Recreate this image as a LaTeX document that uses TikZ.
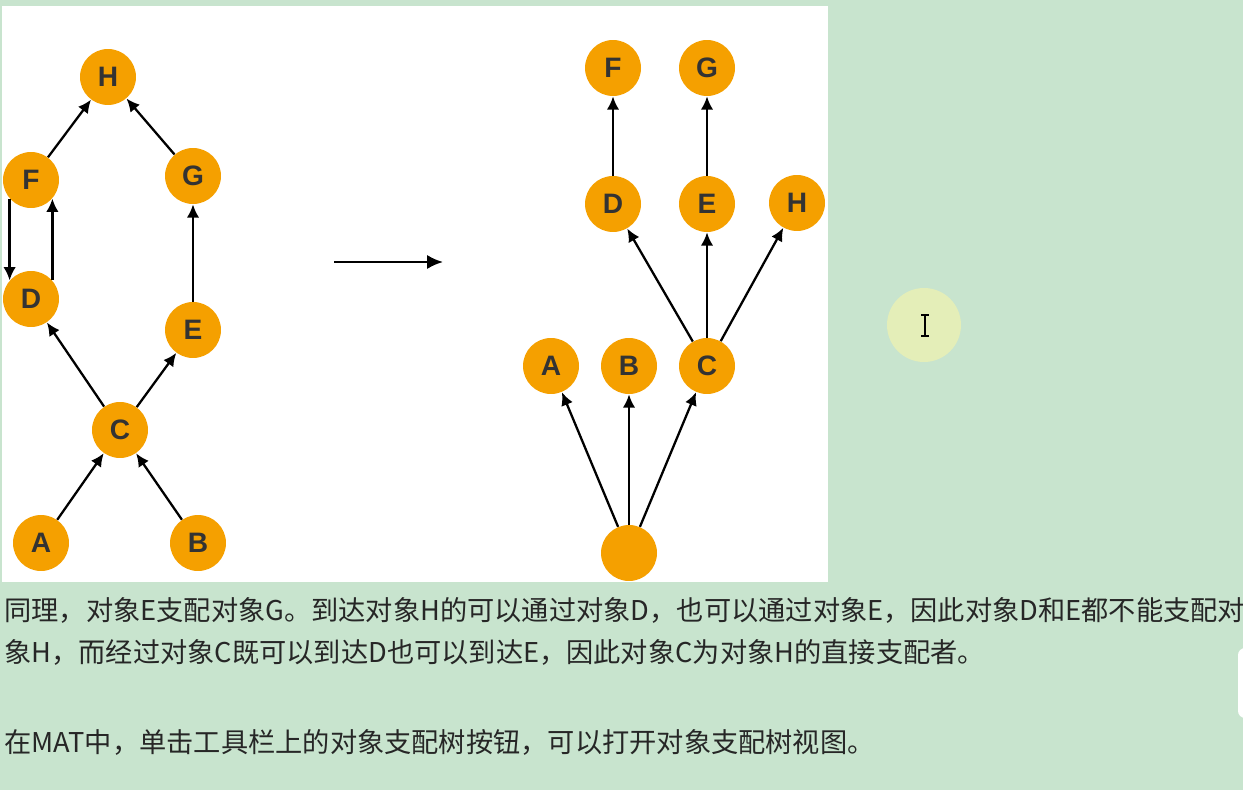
\documentclass[tikz,border=0pt]{standalone}
\usepackage{fontspec}
\setmainfont{Liberation Sans}
\newfontfamily\cjk{Noto Sans CJK SC}
\usetikzlibrary{arrows.meta}
\definecolor{bggreen}{RGB}{200,228,206}
\definecolor{nodeorange}{RGB}{245,160,0}
\definecolor{letter}{RGB}{51,51,51}
\definecolor{halo}{RGB}{228,238,184}
\tikzset{vertex/.style={circle,fill=nodeorange,minimum size=1.12cm,inner sep=0pt,text=letter,font=\bfseries\fontsize{16}{18}\selectfont},
	link/.style={line width=1.3pt,-{Latex[length=7.5pt,width=7pt]}},
	caption/.style={anchor=west,inner sep=0pt,text=black!85,font=\cjk\fontsize{15.5}{18}\selectfont}}
\begin{document}
\begin{tikzpicture}[x=0.02cm,y=-0.02cm]
	\clip (0,0) rectangle (1243,790);
	\fill[bggreen] (0,0) rectangle (1243,790);
	\fill[white] (2,6) rectangle (828,582);
	% graph before
	\node[vertex] (lH) at (108,77) {H};
	\node[vertex] (lF) at (31,180) {F};
	\node[vertex] (lG) at (193,176) {G};
	\node[vertex] (lD) at (31,299) {D};
	\node[vertex] (lE) at (193,330) {E};
	\node[vertex] (lC) at (120,430) {C};
	\node[vertex] (lA) at (41,543) {A};
	\node[vertex] (lB) at (198,543) {B};
	\draw[link] (lF)--(lH);
	\draw[link] (lG)--(lH);
	\draw[link] (lF.221)--(lD.139);
	\draw[link] (lD.41)--(lF.319);
	\draw[link] (lE)--(lG);
	\draw[link] (lC)--(lD);
	\draw[link] (lC)--(lE);
	\draw[link] (lA)--(lC);
	\draw[link] (lB)--(lC);
	% middle arrow
	\coordinate (m1) at (334,262);
	\coordinate (m2) at (443,262);
	\draw[line width=1.3pt,-{Latex[length=9pt,width=8pt]}] (m1)--(m2);
	% dominator tree
	\node[vertex] (tF) at (613,68) {F};
	\node[vertex] (tG) at (707,68) {G};
	\node[vertex] (tD) at (613,204) {D};
	\node[vertex] (tE) at (707,204) {E};
	\node[vertex] (tH) at (797,203) {H};
	\node[vertex] (tA) at (551,366) {A};
	\node[vertex] (tB) at (629,366) {B};
	\node[vertex] (tC) at (707,366) {C};
	\node[vertex] (tR) at (629,553) {};
	\draw[link] (tD)--(tF);
	\draw[link] (tE)--(tG);
	\draw[link] (tC)--(tD);
	\draw[link] (tC)--(tE);
	\draw[link] (tC)--(tH);
	\draw[link] (tR)--(tA);
	\draw[link] (tR)--(tB);
	\draw[link] (tR)--(tC);
	% cursor
	\fill[halo] (924,325) circle[radius=0.74cm];
	\draw[line width=0.7pt] (925,315)--(925,336) (921,315)--(929,315) (921,336)--(929,336);
	\fill[white,rounded corners=4pt] (1238,648) rectangle (1262,718);
	% text
	\node[caption] (t1) at (4,610) {同理，对象E支配对象G。到达对象H的可以通过对象D，也可以通过对象E，因此对象D和E都不能支配对};
	\node[caption] (t2) at (4,652) {象H，而经过对象C既可以到达D也可以到达E，因此对象C为对象H的直接支配者。};
	\node[caption] (t3) at (4,742) {在MAT中，单击工具栏上的对象支配树按钮，可以打开对象支配树视图。};
\end{tikzpicture}
\end{document}
